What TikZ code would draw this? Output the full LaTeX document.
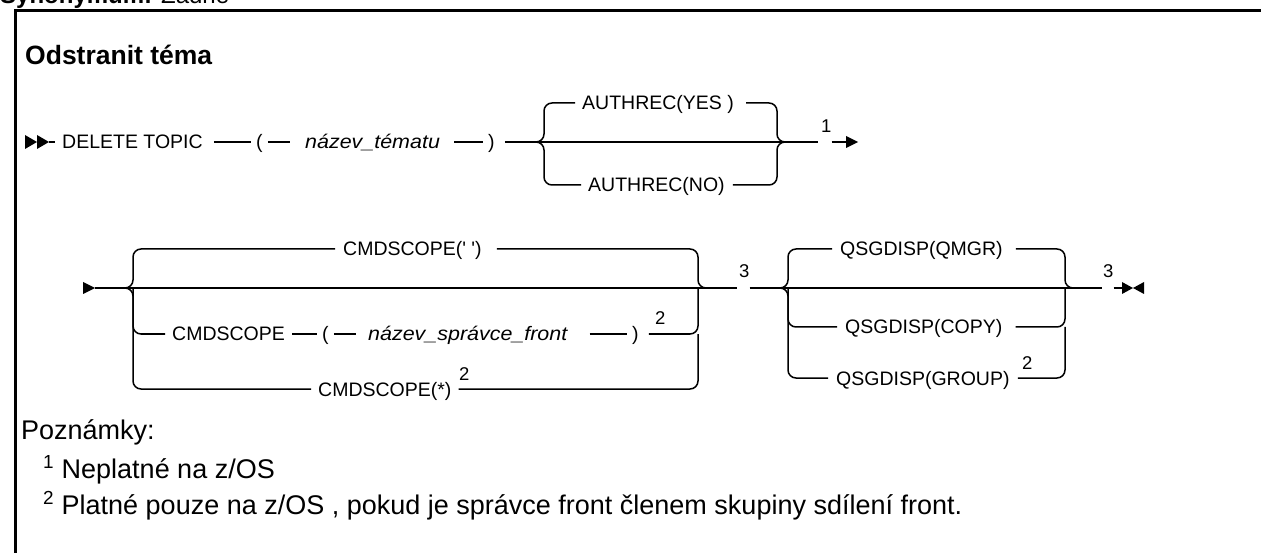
\documentclass[tikz,border=0pt]{standalone}
\usepackage{fontspec}
\setmainfont{Liberation Sans}
\newfontfamily\varfont[FakeStretch=1.1]{Liberation Sans}
\begin{document}
\begin{tikzpicture}[x=1pt,y=-1pt,
  rail/.style={line width=1.5pt},
  brk/.style={line width=1.5pt, rounded corners=8pt},
  kw/.style={font=\fontsize{19.5}{22}\selectfont, inner sep=0pt, anchor=base west},
  var/.style={kw, font=\varfont\fontsize{19.5}{22}\selectfont\itshape},
  fn/.style={font=\fontsize{18.5}{20}\selectfont, inner sep=0pt, anchor=base west},
  note/.style={font=\fontsize{27}{30}\selectfont, inner sep=0pt, anchor=base west},
  ttl/.style={font=\fontsize{26.5}{30}\selectfont\bfseries, inner sep=0pt, anchor=base west}]
\useasboundingbox (0,0) rectangle (1261,553);
\clip (0,0) rectangle (1261,553);
% cut heading and frame
\node[ttl, font=\fontsize{24}{28}\selectfont] (syn) at (0,4) {\textbf{Synonymum:} Žádné};
\draw[line width=3pt] (15.5,553) -- (15.5,11) -- (1261,11);
\node[ttl] (title) at (25,65) {Odstranit téma};
% ---------- row 1 ----------
\coordinate (r1) at (0,142);
\fill (25,135) -- (37,142) -- (25,149) -- cycle;
\fill (37,135) -- (49,142) -- (37,149) -- cycle;
\coordinate (s1) at (49,142);
\node[kw] (del) at (62,149) {DELETE TOPIC};
\node[kw] (lp1) at (256,149) {(};
\node[var] (nt) at (305,149) {název\_tématu};
\node[kw] (rp1) at (488,149) {)};
\draw[rail, shorten >=7pt] (s1) -- (del.west|-r1);
\draw[rail, shorten <=11pt, shorten >=5pt] (del.east|-r1) -- (lp1.west|-r1);
\draw[rail, shorten <=5pt, shorten >=15pt] (lp1.east|-r1) -- (nt.west|-r1);
\draw[rail, shorten <=14pt, shorten >=5pt] (nt.east|-r1) -- (rp1.west|-r1);
\coordinate (aL) at (544,142);
\coordinate (aR) at (777,142);
\coordinate (at) at (0,103);
\coordinate (ab) at (0,185);
\coordinate (j1) at (818,142);
\node[kw] (ay) at (582,110) {AUTHREC(YES )};
\node[kw] (an) at (588,192) {AUTHREC(NO)};
\draw[rail, shorten <=10pt] (rp1.east|-r1) -- (j1);
\draw[brk, shorten >=7pt] ([xshift=-8pt]aL) -- (aL) -- (aL|-at) -- (ay.west|-at);
\draw[brk, shorten >=7pt] ([xshift=-8pt]aL) -- (aL) -- (aL|-ab) -- (an.west|-ab);
\draw[brk, shorten <=12pt] (ay.east|-at) -- (aR|-at) -- (aR) -- ([xshift=8pt]aR);
\draw[brk, shorten <=8pt] (an.east|-ab) -- (aR|-ab) -- (aR) -- ([xshift=8pt]aR);
\node[fn] (n1) at (821,133) {1};
\coordinate (e1) at (846,142);
\draw[rail] (n1.east|-r1) -- (e1);
\fill (846,136) -- (858,142) -- (846,148) -- cycle;
% ---------- row 2 ----------
\coordinate (r2) at (0,288);
\fill (83,282) -- (95,288) -- (83,294) -- cycle;
\coordinate (s2) at (95,288);
\coordinate (cL) at (133,288);
\coordinate (cR) at (698,288);
\coordinate (ct) at (0,249);
\coordinate (cmy) at (0,334);
\coordinate (cb) at (0,389);
\coordinate (j2) at (737,288);
\node[kw] (cq) at (343,256) {CMDSCOPE(\textquotesingle\ \textquotesingle)};
\node[kw] (cm) at (172,341) {CMDSCOPE};
\node[kw] (lp2) at (322,341) {(};
\node[var] (nq) at (368,341) {název\_správce\_front};
\node[kw] (rp2) at (632,341) {)};
\node[fn] (n2a) at (655,325) {2};
\node[kw] (cs) at (318,396) {CMDSCOPE(*)};
\node[fn] (n2b) at (459,380) {2};
\draw[rail] (s2) -- (j2);
\draw[brk, shorten >=8pt] ([xshift=-8pt]cL) -- (cL) -- (cL|-ct) -- (cq.west|-ct);
\draw[brk, shorten >=7pt] ([xshift=-8pt]cL) -- (cL) -- (cL|-cb) -- (cs.west|-cb);
\draw[brk, shorten >=7pt] (cL) -- (cL|-cmy) -- (cm.west|-cmy);
\draw[rail, shorten <=7pt, shorten >=5pt] (cm.east|-cmy) -- (lp2.west|-cmy);
\draw[rail, shorten <=5pt, shorten >=12pt] (lp2.east|-cmy) -- (nq.west|-cmy);
\draw[rail, shorten <=22pt, shorten >=5pt] (nq.east|-cmy) -- (rp2.west|-cmy);
\draw[brk, shorten <=15pt] (cq.east|-ct) -- (cR|-ct) -- (cR) -- ([xshift=8pt]cR);
\draw[brk, shorten <=10pt] (rp2.east|-cmy) -- (cR|-cmy) -- (cR);
\draw[brk, shorten <=7pt] (cs.east|-cb) -- (cR|-cb) -- (cR|-cmy);
\node[fn] (n3a) at (739,278) {3};
% second group
\coordinate (qL) at (788,288);
\coordinate (qR) at (1065,288);
\coordinate (qt) at (0,249);
\coordinate (qcy) at (0,327);
\coordinate (qgy) at (0,378);
\coordinate (j3) at (1102,288);
\node[kw] (qm) at (840,256) {QSGDISP(QMGR)};
\node[kw] (qc) at (845,334) {QSGDISP(COPY)};
\node[kw] (qg) at (836,385) {QSGDISP(GROUP)};
\node[fn] (n2c) at (1022,369) {2};
\draw[rail] (n3a.east|-r2) -- (j3);
\draw[brk, shorten >=8pt] ([xshift=-8pt]qL) -- (qL) -- (qL|-qt) -- (qm.west|-qt);
\draw[brk, shorten >=8pt] ([xshift=-8pt]qL) -- (qL) -- (qL|-qgy) -- (qg.west|-qgy);
\draw[brk, shorten >=8pt] (qL) -- (qL|-qcy) -- (qc.west|-qcy);
\draw[brk, shorten <=13pt] (qm.east|-qt) -- (qR|-qt) -- (qR) -- ([xshift=8pt]qR);
\draw[brk, shorten <=13pt] (qc.east|-qcy) -- (qR|-qcy) -- (qR);
\draw[brk, shorten <=8pt] (qg.east|-qgy) -- (qR|-qgy) -- (qR|-qcy);
\node[fn] (n3b) at (1103,278) {3};
\coordinate (e2) at (1122,288);
\draw[rail] (n3b.east|-r2) -- (e2);
\fill (1122,282) -- (1133,288) -- (1122,294) -- cycle;
\fill (1144,282) -- (1133,288) -- (1144,294) -- cycle;
% ---------- notes ----------
\node[note] (pz) at (21,439) {Poznámky:};
\node[note] (nb1) at (43,478) {\textsuperscript{1} Neplatné na z/OS};
\node[note] (nb2) at (43,514) {\textsuperscript{2} Platné pouze na z/OS , pokud je správce front členem skupiny sdílení front.};
\end{tikzpicture}
\end{document}
